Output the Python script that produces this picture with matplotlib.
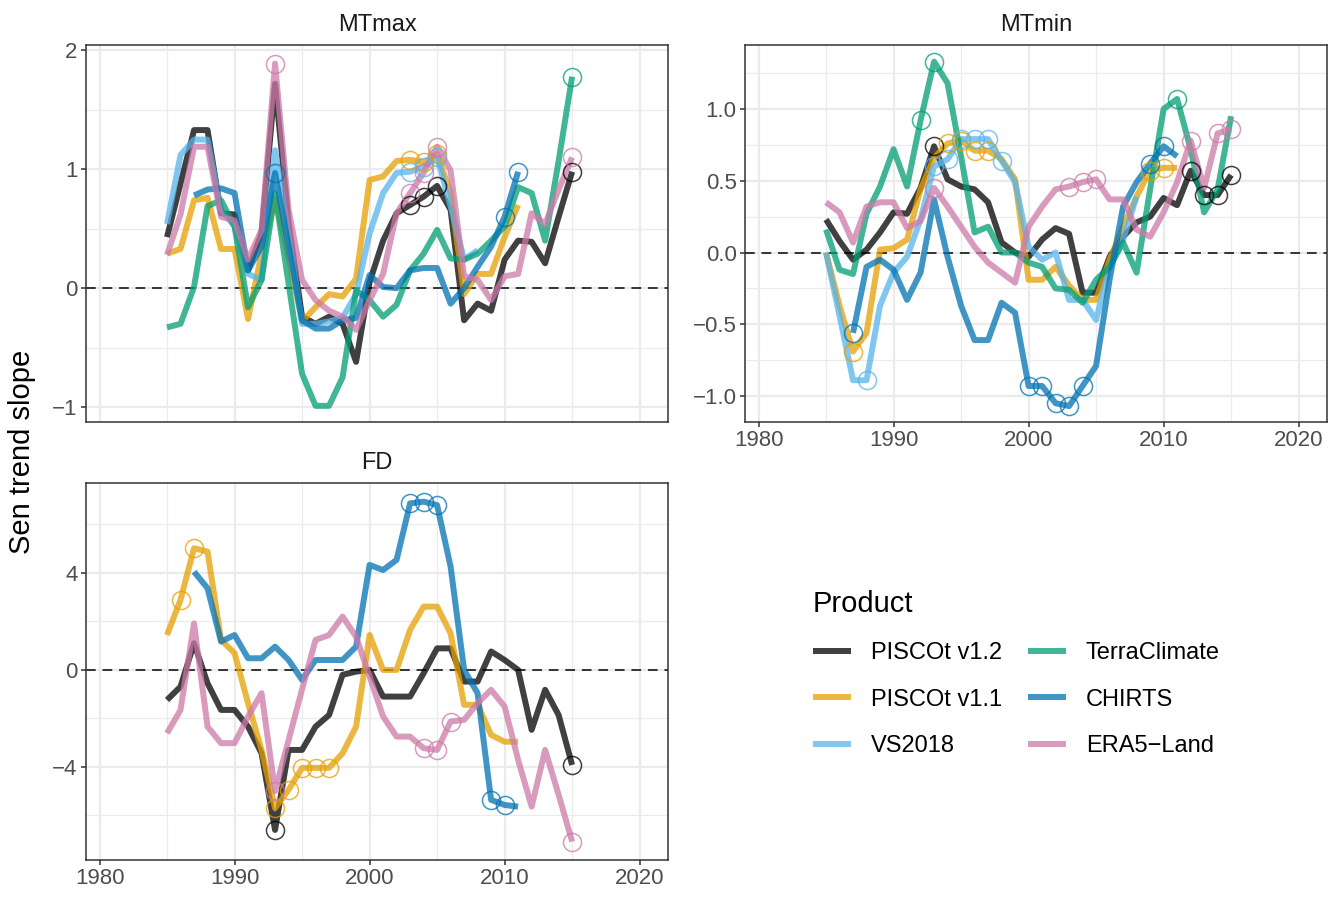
import numpy as np
import matplotlib.pyplot as plt
from matplotlib.lines import Line2D
from matplotlib.ticker import MultipleLocator

plt.rcParams['font.family'] = ['Liberation Sans', 'DejaVu Sans']

products = ['PISCOt v1.2', 'PISCOt v1.1', 'VS2018', 'TerraClimate', 'CHIRTS', 'ERA5\u2212Land']
colors = ['#000000', '#E69F00', '#56B4E9', '#009E73', '#0072B2', '#CC79A7']

yrs_full = list(range(1985, 2016))
yrs_v11 = list(range(1985, 2012))
yrs_vs = list(range(1985, 2009))
yrs_chirts = list(range(1987, 2012))

# MTmax
mtmax_v12 = [0.43, 0.88, 1.33, 1.33, 0.63, 0.62, 0.15, 0.46, 1.72, 0.55, -0.24, -0.30, -0.24, -0.30, -0.62, 0.05,
             0.40, 0.63, 0.70, 0.77, 0.86, 0.66, -0.27, -0.13, -0.19, 0.24, 0.40, 0.39, 0.21, 0.60, 0.98]
mtmax_v11 = [0.29, 0.33, 0.74, 0.76, 0.33, 0.33, -0.26, 0.29, 0.75, 0.26, -0.28, -0.16, -0.05, -0.07, 0.08, 0.91,
             0.94, 1.07, 1.08, 1.06, 1.13, 0.80, -0.05, 0.12, 0.12, 0.43, 0.70]
mtmax_vs = [0.54, 1.12, 1.25, 1.25, 0.66, 0.52, 0.12, 0.07, 1.16, 0.45, -0.30, -0.30, -0.28, -0.25, -0.05, 0.46,
            0.80, 0.97, 0.98, 1.02, 1.10, 0.69, 0.24, 0.32]
mtmax_terra = [-0.33, -0.30, 0.01, 0.69, 0.74, 0.52, -0.16, 0.07, 0.80, 0.04, -0.72, -0.99, -0.99, -0.75, -0.02, -0.10,
               -0.24, -0.14, 0.15, 0.29, 0.49, 0.25, 0.24, 0.29, 0.40, 0.52, 0.85, 0.80, 0.40, 1.07, 1.78]
mtmax_chirts = [0.78, 0.83, 0.84, 0.80, 0.15, 0.35, 0.97, 0.35, -0.27, -0.34, -0.34, -0.27, -0.25, 0.11,
                0.01, 0.00, 0.15, 0.17, 0.17, -0.13, 0.00, 0.18, 0.35, 0.60, 0.98]
mtmax_era5 = [0.28, 0.62, 1.19, 1.19, 0.60, 0.57, 0.24, 0.49, 1.89, 0.66, 0.07, -0.10, -0.19, -0.24, -0.35, -0.10,
              0.12, 0.63, 0.80, 0.97, 1.19, 0.99, 0.10, 0.07, -0.10, 0.10, 0.12, 0.63, 0.54, 0.83, 1.10]

# MTmin
mtmin_v12 = [0.23, 0.08, -0.05, 0.02, 0.14, 0.28, 0.27, 0.45, 0.74, 0.51, 0.46, 0.44, 0.35, 0.07, 0.00, -0.03,
             0.09, 0.17, 0.13, -0.28, -0.28, -0.03, 0.11, 0.21, 0.25, 0.38, 0.33, 0.57, 0.40, 0.40, 0.54]
mtmin_v11 = [0.00, -0.37, -0.69, -0.56, 0.02, 0.03, 0.09, 0.44, 0.66, 0.76, 0.78, 0.71, 0.71, 0.65, 0.51, -0.19,
             -0.19, -0.10, -0.23, -0.33, -0.33, -0.05, 0.18, 0.39, 0.57, 0.59, 0.59]
mtmin_vs = [0.00, -0.44, -0.89, -0.89, -0.37, -0.14, -0.03, 0.23, 0.60, 0.65, 0.79, 0.79, 0.79, 0.64, 0.49, 0.04,
            -0.05, 0.00, -0.33, -0.33, -0.47, -0.10, 0.09, 0.39]
mtmin_terra = [0.16, -0.12, -0.15, 0.27, 0.46, 0.72, 0.46, 0.92, 1.33, 1.18, 0.67, 0.14, 0.18, 0.00, 0.00, -0.07,
               -0.10, -0.25, -0.26, -0.35, -0.19, -0.10, 0.07, -0.14, 0.44, 1.00, 1.07, 0.72, 0.28, 0.44, 0.95]
mtmin_chirts = [-0.56, -0.10, -0.05, -0.12, -0.33, -0.14, 0.37, -0.03, -0.37, -0.61, -0.61, -0.35, -0.42, -0.93,
                -0.93, -1.05, -1.07, -0.93, -0.79, -0.19, 0.32, 0.49, 0.62, 0.74, 0.67]
mtmin_era5 = [0.35, 0.28, 0.07, 0.32, 0.35, 0.35, 0.17, 0.22, 0.45, 0.32, 0.18, 0.04, -0.07, -0.14, -0.21, 0.18,
              0.32, 0.44, 0.46, 0.49, 0.51, 0.37, 0.37, 0.16, 0.11, 0.28, 0.49, 0.78, 0.45, 0.83, 0.86]

# FD
fd_v12 = [-1.24, -0.69, 1.10, -0.55, -1.65, -1.65, -2.34, -3.44, -6.60, -3.30, -3.30, -2.34, -1.86, -0.20, -0.07, 0.00,
          -1.10, -1.10, -1.10, -0.14, 0.89, 0.89, -0.48, -0.48, 0.76, 0.41, 0.00, -2.47, -0.82, -1.86, -3.92]
fd_v11 = [1.44, 2.89, 5.02, 4.88, 1.24, 0.69, -1.37, -3.30, -5.70, -4.95, -4.04, -4.04, -4.04, -3.44, -2.34, 1.44,
          0.00, 0.00, 1.65, 2.61, 2.61, 1.51, -1.44, -1.44, -2.68, -2.96, -2.96]
fd_chirts = [4.05, 3.37, 1.17, 1.44, 0.48, 0.48, 0.96, 0.41, -0.41, 0.41, 0.41, 0.41, 0.96, 4.33,
             4.12, 4.54, 6.87, 6.94, 6.80, 4.26, 0.00, -0.96, -5.36, -5.57, -5.64]
fd_era5 = [-2.61, -1.65, 1.92, -2.34, -3.02, -3.02, -1.92, -0.96, -5.00, -2.90, -0.80, 1.24, 1.44, 2.20, 1.37, -0.27,
           -1.92, -2.75, -2.75, -3.23, -3.30, -2.13, -2.06, -1.37, -0.82, -1.51, -3.71, -5.64, -3.30, -5.15, -7.08]

# years with significant trend (circled)
sig_mtmax = {0: [2003, 2004, 2005, 2015], 1: [2003, 2004, 2005], 2: [2003, 2004, 2005],
             3: [2015], 4: [1993, 2010, 2011], 5: [1993, 2003, 2004, 2005, 2015]}
sig_mtmin = {0: [1993, 2012, 2013, 2014, 2015], 1: [1987, 1994, 1995, 1996, 1997, 2009, 2010],
             2: [1988, 1993, 1994, 1995, 1996, 1997, 1998], 3: [1992, 1993, 2011],
             4: [1987, 2000, 2001, 2002, 2003, 2004, 2009, 2010], 5: [1993, 2003, 2004, 2005, 2012, 2014, 2015]}
sig_fd = {0: [1993, 2015], 1: [1986, 1987, 1993, 1994, 1995, 1996, 1997],
          4: [2003, 2004, 2005, 2009, 2010], 5: [1993, 2004, 2005, 2006, 2015]}

mtmax = {0: (yrs_full, mtmax_v12), 1: (yrs_v11, mtmax_v11), 2: (yrs_vs, mtmax_vs),
         3: (yrs_full, mtmax_terra), 4: (yrs_chirts, mtmax_chirts), 5: (yrs_full, mtmax_era5)}
mtmin = {0: (yrs_full, mtmin_v12), 1: (yrs_v11, mtmin_v11), 2: (yrs_vs, mtmin_vs),
         3: (yrs_full, mtmin_terra), 4: (yrs_chirts, mtmin_chirts), 5: (yrs_full, mtmin_era5)}
fd = {0: (yrs_full, fd_v12), 1: (yrs_v11, fd_v11), 4: (yrs_chirts, fd_chirts), 5: (yrs_full, fd_era5)}

LW = 4.3
ALPHA = 0.75
TICK_COL = '#4D4D4D'


def draw_panel(ax, data, sig, title, ylim, ymajor, yminor, fmt, xlabels=True):
    ax.axhline(0, color='#333333', lw=1.4, ls=(0, (5, 3.5)), zorder=1.5)
    for i, (xs, ys) in data.items():
        ax.plot(xs, ys, color=colors[i], lw=LW, alpha=ALPHA,
                solid_capstyle='butt', solid_joinstyle='round', zorder=2 + i * 0.1)
        sx = [y for y in sig.get(i, [])]
        sy = [ys[xs.index(y)] for y in sx]
        ax.plot(sx, sy, 'o', mfc='none', mec=colors[i], ms=13, mew=1.1, alpha=ALPHA, zorder=3)

    ax.set_xlim(1979.0, 2022.1)
    ax.set_ylim(*ylim)
    ax.xaxis.set_major_locator(MultipleLocator(10))
    ax.xaxis.set_minor_locator(MultipleLocator(5))
    ax.yaxis.set_major_locator(MultipleLocator(ymajor))
    ax.yaxis.set_minor_locator(MultipleLocator(yminor))
    ax.yaxis.set_major_formatter(fmt)
    ax.grid(which='major', color='#EBEBEB', lw=1.6)
    ax.grid(which='minor', color='#EBEBEB', lw=0.9)
    ax.set_axisbelow(True)
    for s in ax.spines.values():
        s.set_color('#333333')
        s.set_linewidth(1.1)
    ax.tick_params(which='major', length=3.6, width=1.1, color='#333333',
                   labelsize=16, labelcolor=TICK_COL, pad=2.5)
    ax.tick_params(which='minor', length=0)
    if not xlabels:
        ax.tick_params(axis='x', which='major', length=0, labelbottom=False)
    ax.set_title(title, fontsize=17, color='#1A1A1A', pad=10)


fig = plt.figure(figsize=(13.4, 8.97), dpi=100)
W, H = 1340, 897


def box(l, t, r, b):
    return [l / W, 1 - b / H, (r - l) / W, (b - t) / H]


ax1 = fig.add_axes(box(86, 45, 668, 422))
ax2 = fig.add_axes(box(745, 45, 1327, 422))
ax3 = fig.add_axes(box(86, 483, 668, 860))

draw_panel(ax1, mtmax, sig_mtmax, 'MTmax', (-1.126, 2.046), 1, 0.5, '{x:.0f}', xlabels=False)
draw_panel(ax2, mtmin, sig_mtmin, 'MTmin', (-1.181, 1.446), 0.5, 0.25, '{x:.1f}')
draw_panel(ax3, fd, sig_fd, 'FD', (-7.84, 7.71), 4, 2, '{x:.0f}')

fig.text(22 / W, 1 - 452 / H, 'Sen trend slope', rotation=90, fontsize=21,
         ha='center', va='center')

handles = [Line2D([], [], color=c, lw=LW, alpha=ALPHA, solid_capstyle='butt') for c in colors]
leg = fig.legend(handles, products, loc='upper left', bbox_to_anchor=(813 / W, 1 - 590 / H),
                 ncol=2, frameon=False, title='Product', title_fontsize=21, fontsize=17,
                 alignment='left', handlelength=1.6, handletextpad=0.85, columnspacing=1.1,
                 labelspacing=1.03, borderpad=0, borderaxespad=0)

fig.savefig('out.png', dpi=100)
